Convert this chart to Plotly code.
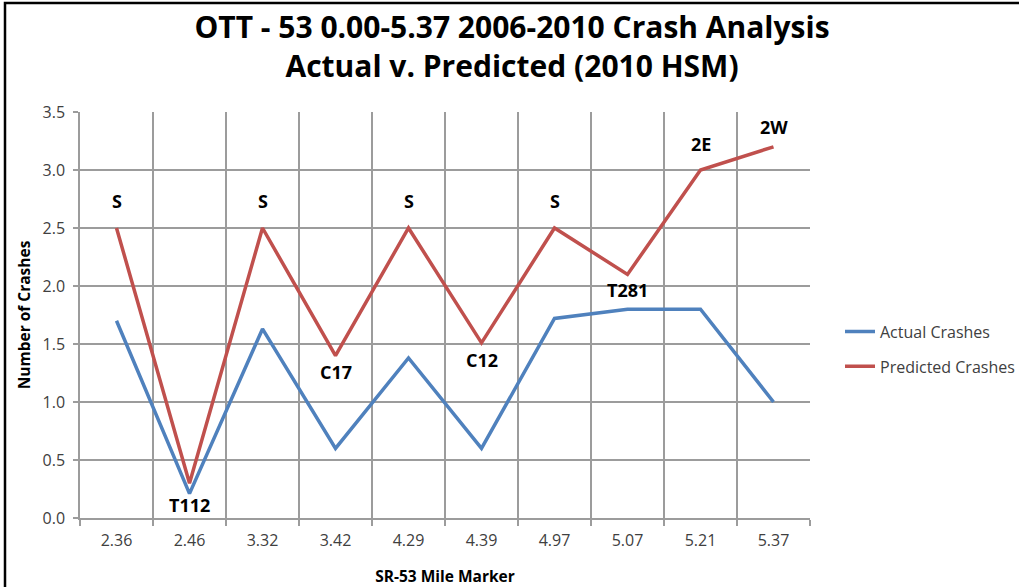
import plotly.graph_objects as go

mile_markers = ["2.36", "2.46", "3.32", "3.42", "4.29", "4.39", "4.97", "5.07", "5.21", "5.37"]
actual_crashes = [1.70, 0.21, 1.63, 0.60, 1.38, 0.60, 1.72, 1.80, 1.80, 1.00]
predicted_crashes = [2.50, 0.30, 2.50, 1.40, 2.50, 1.51, 2.50, 2.10, 3.00, 3.20]
segment_labels = ["S", "T112", "S", "C17", "S", "C12", "S", "T281", "2E", "2W"]
label_shift = [27, -22, 27, -16, 27, -17, 27, -16, 26, 20]

W, H = 1019, 587
ML, MR, MT, MB = 80, 209, 112, 69
FONT = "Open Sans"

fig = go.Figure()
fig.add_trace(go.Scatter(x=mile_markers, y=actual_crashes, mode="lines", name="Actual Crashes",
                         legendgroup="a", line=dict(color="#4F81BD", width=3.5)))
fig.add_trace(go.Scatter(x=mile_markers, y=predicted_crashes, mode="lines", name="Predicted Crashes",
                         legendgroup="p", line=dict(color="#C0504D", width=3.5)))

for i, (yv, txt, sh) in enumerate(zip(predicted_crashes, segment_labels, label_shift)):
    fig.add_annotation(x=i, y=yv, text="<b>%s</b>" % txt, showarrow=False, yshift=sh,
                       xanchor="center", yanchor="middle",
                       font=dict(family=FONT, size=18, color="black"))

pw = W - ML - MR
ph = H - MT - MB
# outer chart border
fig.add_shape(type="rect", xref="paper", yref="paper",
              x0=(5 - ML) / pw, x1=(W + 10 - ML) / pw,
              y0=(H - MB - (H + 10)) / ph, y1=(H - MB - 3) / ph,
              line=dict(color="black", width=2.5), fillcolor="rgba(0,0,0,0)", layer="below")

fig.update_layout(
    width=W, height=H,
    margin=dict(l=ML, r=MR, t=MT, b=MB, autoexpand=False),
    paper_bgcolor="white", plot_bgcolor="white",
    title=dict(text="<b>OTT - 53 0.00-5.37 2006-2010 Crash Analysis<br>Actual v. Predicted (2010 HSM)</b>",
               x=512 / W, xanchor="center", y=1 - 37.5 / H, yanchor="middle",
               font=dict(family=FONT, size=30, color="black")),
    showlegend=True,
    legend=dict(x=(840 - ML) / pw, xanchor="left", y=0.416, yanchor="middle",
                font=dict(family=FONT, size=16, color="#404040"),
                bgcolor="rgba(0,0,0,0)", tracegroupgap=11, traceorder="grouped"),
    xaxis=dict(type="category", tickson="boundaries", showgrid=True, gridcolor="#9C9C9C", gridwidth=1.5,
               showline=True, linecolor="#9C9C9C", linewidth=1.5,
               ticks="outside", ticklen=6, tickcolor="#9C9C9C", tickwidth=1.5,
               range=[-0.5, 9.5], ticklabelstandoff=7,
               tickfont=dict(family=FONT, size=16, color="#404040"),
               title=dict(text="<b>SR-53 Mile Marker</b>", standoff=25,
                          font=dict(family=FONT, size=15.5, color="black"))),
    yaxis=dict(range=[0, 3.5], dtick=0.5, tickformat=".1f", showgrid=True, gridcolor="#9C9C9C", gridwidth=1.5,
               showline=True, linecolor="#9C9C9C", linewidth=1.5, zeroline=False,
               ticks="outside", ticklen=5, tickcolor="#9C9C9C", tickwidth=1.5, ticklabelstandoff=5,
               tickfont=dict(family=FONT, size=16, color="#404040"),
               title=dict(text="<b>Number of Crashes</b>", standoff=8,
                          font=dict(family=FONT, size=15.5, color="black"))),
)

fig.write_html("out.html", config={"displayModeBar": False},
               post_script="document.body.style.margin='0';")
